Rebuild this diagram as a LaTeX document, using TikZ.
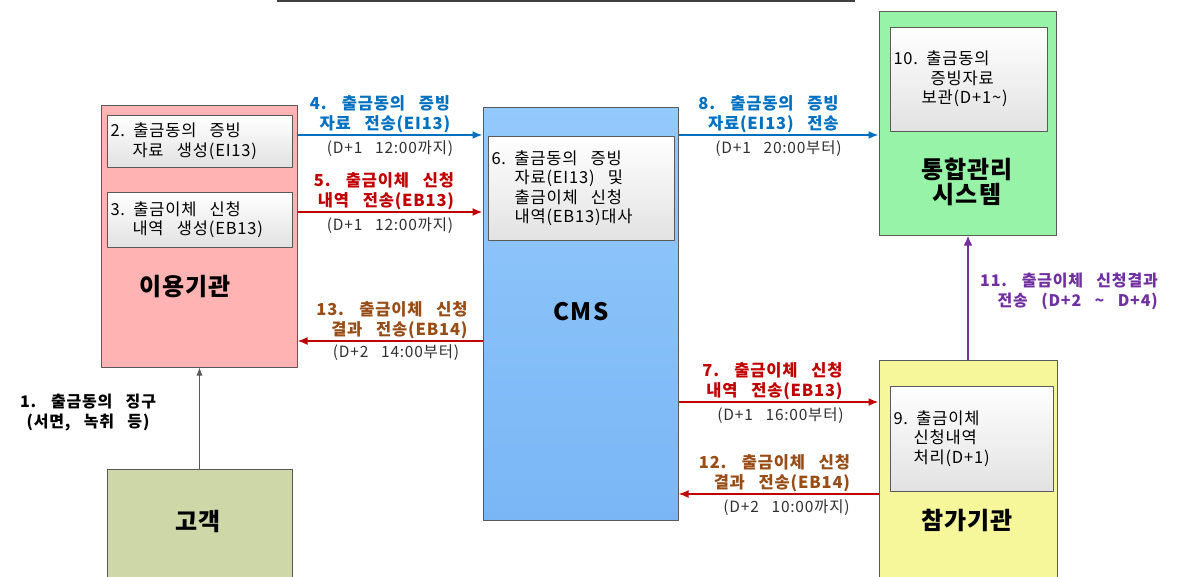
\documentclass[tikz,border=0pt]{standalone}
\usepackage{fontspec}
\setmainfont[WordSpace=3,LetterSpace=5]{Noto Sans CJK KR}
\usetikzlibrary{arrows.meta}
\definecolor{boxline}{HTML}{5A5A5A}
\definecolor{inbottom}{HTML}{E2E2E2}
\definecolor{orgpink}{HTML}{FFB3B3}
\definecolor{cmstop}{HTML}{93C9FB}
\definecolor{cmsbot}{HTML}{7AB6F6}
\definecolor{kftcgreen}{HTML}{96F3A8}
\definecolor{bankyellow}{HTML}{F6F69A}
\definecolor{custolive}{HTML}{CDD7A8}
\definecolor{flowblue}{HTML}{0070C0}
\definecolor{flowred}{HTML}{C00000}
\definecolor{flowbrown}{HTML}{984C16}
\definecolor{flowpurple}{HTML}{7030A0}
\definecolor{timegray}{HTML}{303030}

\begin{document}
\begin{tikzpicture}[x=1pt,y=-1pt,line join=round,
    box/.style={draw=boxline,line width=1pt,inner sep=0pt},
    inbox/.style={draw=boxline,line width=0.9pt,top color=white,bottom color=inbottom,
        align=left,inner xsep=3.5pt,inner ysep=0pt,font=\fontsize{16.5}{19.5}\selectfont,
        execute at begin node={\spaceskip=0.8em\relax}},
    title/.style={font=\fontsize{24}{26}\selectfont\bfseries,align=center},
    flow/.style={line width=1.8pt,-{Latex[length=10pt,width=8pt]}},
    lab/.style={font=\fontsize{16.5}{20}\selectfont\bfseries,align=right,inner sep=1pt},
    when/.style={font=\fontsize{15.5}{18}\selectfont,text=timegray,inner sep=1pt}]
    \useasboundingbox (0,0) rectangle (1191,576);
    \draw[line width=2pt,draw=black!75] (277,1) -- (855,1);

    % 이용기관
    \node[box,fill=orgpink,minimum width=196,minimum height=262] (org) at (199,236) {};
    \node[inbox,text width=178,minimum height=52] (gen2) at (199.5,141) {2. 출금동의 증빙\\\hspace*{22pt}자료 생성(EI13)};
    \node[inbox,text width=178,minimum height=55] (gen3) at (199.5,219.5) {3. 출금이체 신청\\\hspace*{22pt}내역 생성(EB13)};
    \node[title] at (185,287) {이용기관};

    % CMS
    \node[box,top color=cmstop,bottom color=cmsbot,minimum width=195,minimum height=413] (cms) at (580.5,313.5) {};
    \node[inbox,text width=179,minimum height=104] (match6) at (581,188) {6. 출금동의 증빙\\\hspace*{23pt}자료(EI13) 및\\\hspace*{23pt}출금이체 신청\\\hspace*{23pt}내역(EB13)대사};
    \node[title] at (581,312) {CMS};

    % 통합관리 시스템
    \node[box,fill=kftcgreen,minimum width=177,minimum height=224] (kftc) at (967.5,123) {};
    \node[inbox,text width=150,minimum height=104] (keep10) at (968.5,79) {10. 출금동의\\\hspace*{37pt}증빙자료\\\hspace*{28pt}보관(D+1\textasciitilde)};
    \node[title] at (967,182) {통합관리\\[-1pt]시스템};

    % 참가기관
    \node[box,fill=bankyellow,minimum width=178,minimum height=222] (bank) at (968,471) {};
    \node[inbox,text width=156,minimum height=105] (proc9) at (971.5,438.5) {9. 출금이체\\\hspace*{20pt}신청내역\\\hspace*{20pt}처리(D+1)};
    \node[title] at (967,520) {참가기관};

    % 고객
    \node[box,fill=custolive,minimum width=185,minimum height=112] (cust) at (199.5,525) {};
    \node[title] at (198,522) {고객};

    % rows of the arrows
    \coordinate (rowA) at (0,135);
    \coordinate (rowB) at (0,212);
    \coordinate (rowC) at (0,341);
    \coordinate (rowD) at (0,402);
    \coordinate (rowE) at (0,494);

    \draw[line width=0.9pt,draw=black!65,-{Latex[length=8pt,width=6pt]}] (cust.north) -- (cust.north |- org.south);
    \node[font=\fontsize{16}{20}\selectfont\bfseries,align=center] at (88,413) {1. 출금동의 징구\\(서면, 녹취 등)};

    \draw[flow,flowblue] (org.east |- rowA) -- (cms.west |- rowA)
        node[midway,above,lab,text=flowblue,xshift=-10] {4. 출금동의 증빙\\자료 전송(EI13)}
        node[midway,below,when,yshift=-4] {(D+1 12:00까지)};
    \draw[flow,flowred] (org.east |- rowB) -- (cms.west |- rowB)
        node[midway,above,lab,text=flowred,xshift=-6] {5. 출금이체 신청\\내역 전송(EB13)}
        node[midway,below,when,yshift=-4] {(D+1 12:00까지)};
    \draw[flow,flowred] (cms.west |- rowC) -- (org.east |- rowC)
        node[midway,above,lab,text=flowbrown,xshift=2] {13. 출금이체 신청\\결과 전송(EB14)}
        node[midway,below,when,yshift=-2,xshift=6] {(D+2 14:00부터)};

    \draw[flow,flowblue] (cms.east |- rowA) -- (kftc.west |- rowA)
        node[midway,above,lab,text=flowblue,xshift=-10] {8. 출금동의 증빙\\자료(EI13) 전송}
        node[midway,below,when,yshift=-4] {(D+1 20:00부터)};
    \draw[flow,flowred] (cms.east |- rowD) -- (bank.west |- rowD)
        node[midway,above,lab,text=flowred,xshift=-6] {7. 출금이체 신청\\내역 전송(EB13)}
        node[midway,below,when,yshift=-4,xshift=2] {(D+1 16:00부터)};
    \draw[flow,flowred] (bank.west |- rowE) -- (cms.east |- rowE)
        node[midway,above,lab,text=flowbrown,xshift=-4] {12. 출금이체 신청\\결과 전송(EB14)}
        node[midway,below,when,yshift=-4,xshift=8] {(D+2 10:00까지)};

    \draw[line width=2.4pt,flowpurple,-{Latex[length=10pt,width=9pt]}] (bank.north) -- (bank.north |- kftc.south)
        node[midway,right,lab,text=flowpurple,font=\fontsize{16}{20}\selectfont\bfseries,xshift=10,yshift=6] {11. 출금이체 신청결과\\전송 (D+2 \textasciitilde{} D+4)};
\end{tikzpicture}
\end{document}
